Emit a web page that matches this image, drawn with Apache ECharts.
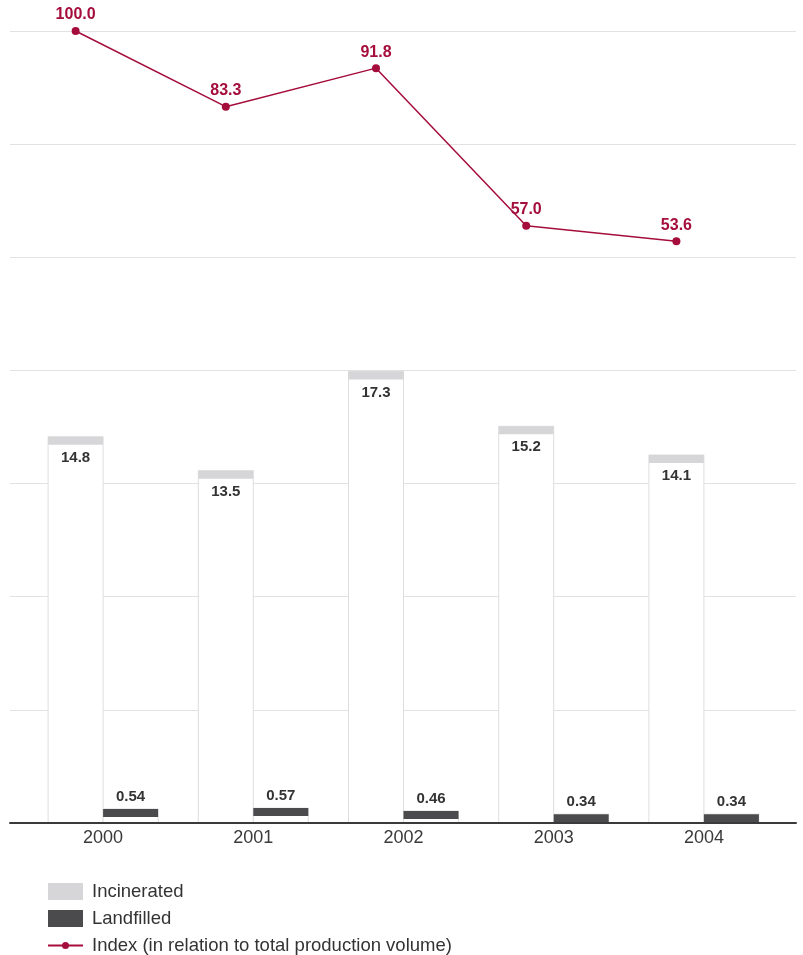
<!DOCTYPE html>
<html>
<head>
<meta charset="utf-8">
<script src="https://cdn.jsdelivr.net/npm/echarts@6/dist/echarts.min.js"></script>
<style>
  html, body { margin: 0; padding: 0; background: #fff; }
  #chart { width: 803px; height: 955px; }
</style>
</head>
<body>
<div id="chart"></div>
<script>
// data
var years = ['2000', '2001', '2002', '2003', '2004'];
var incinerated = [14.8, 13.5, 17.3, 15.2, 14.1];
var landfilled = [0.54, 0.57, 0.46, 0.34, 0.34];
var indexValues = [100.0, 83.3, 91.8, 57.0, 53.6];

var FONT = '"Liberation Sans", Arial, sans-serif';
var RED = '#a50d3c';
var INDEX_NAME = 'Index (in relation to total production volume)';

// bar with a coloured cap on top, drawn through the axis scales
function capBar(capColor, offset, labelInside, digits) {
  return function (params, api) {
    var base = api.coord([api.value(0), 0]);
    var top = api.coord([api.value(0), api.value(1)]);
    var w = 55;
    var cx = base[0] + offset;
    var h = base[1] - top[1];
    var labelY = labelInside ? top[1] + 21 : top[1] - 12;
    return {
      type: 'group',
      children: [
        {
          type: 'rect',
          shape: { x: cx - w / 2, y: top[1], width: w, height: h },
          style: { fill: '#fff', stroke: '#dedede', lineWidth: 1 }
        },
        {
          type: 'rect',
          shape: { x: cx - w / 2, y: top[1], width: w, height: 8 },
          style: { fill: capColor }
        },
        {
          type: 'text',
          style: {
            text: api.value(1).toFixed(digits),
            x: cx, y: labelY,
            align: 'center', verticalAlign: 'middle',
            font: 'bold 15px ' + FONT,
            fill: '#333'
          }
        }
      ]
    };
  };
}

// legend icon: short line with a dot in the middle
var lineIcon = 'path://M0,7.6L35,7.6L35,9.4L0,9.4Z' +
  'M14,8.5A3.5,3.5,0,1,1,21,8.5A3.5,3.5,0,1,1,14,8.5Z';

function legendRow(top, item) {
  return {
    orient: 'vertical',
    left: 48,
    top: top,
    padding: 0,
    itemWidth: 35,
    itemHeight: 17,
    textStyle: { fontSize: 18.5, color: '#333', fontFamily: FONT, padding: [0, 0, 0, 4] },
    data: [item]
  };
}

var chart = echarts.init(document.getElementById('chart'));

chart.setOption({
  animation: false,
  textStyle: { fontFamily: FONT },
  grid: [
    // background: gridlines and axis line
    { left: 10, right: 7, top: 31, bottom: 132 },
    // bars
    { left: 28, right: 24, top: 40, bottom: 132 },
    // index line (points sit on the incinerated bars)
    { left: 0.5, right: 51.5, top: 31, bottom: 471 }
  ],
  xAxis: [
    {
      gridIndex: 0, type: 'value', min: 0, max: 1, z: 10,
      axisLine: { show: true, lineStyle: { color: '#3a3a3a', width: 2 } },
      axisTick: { show: false }, axisLabel: { show: false }, splitLine: { show: false }
    },
    {
      gridIndex: 1, type: 'category', data: years,
      axisLine: { show: false }, axisTick: { show: false },
      axisLabel: { color: '#3a3a3a', fontSize: 18, margin: 6 }
    },
    {
      gridIndex: 2, type: 'category', data: years, show: false
    }
  ],
  yAxis: [
    {
      gridIndex: 0, type: 'value', min: 0, max: 7, interval: 1,
      axisLine: { show: false }, axisTick: { show: false }, axisLabel: { show: false },
      splitLine: { lineStyle: { color: '#e2e2e2', width: 1 } }
    },
    {
      gridIndex: 1, type: 'value', min: 0, max: 30, show: false, splitLine: { show: false }
    },
    {
      gridIndex: 2, type: 'value', min: 0, max: 100, show: false, splitLine: { show: false }
    }
  ],
  legend: [
    legendRow(882, { name: 'Incinerated', icon: 'rect' }),
    legendRow(909, { name: 'Landfilled', icon: 'rect' }),
    legendRow(936, { name: INDEX_NAME, icon: lineIcon })
  ],
  series: [
    {
      name: 'Incinerated',
      type: 'custom',
      xAxisIndex: 1, yAxisIndex: 1,
      itemStyle: { color: '#d6d6d8' },
      renderItem: capBar('#d6d6d8', -27.5, true, 1),
      encode: { x: 0, y: 1 },
      data: incinerated.map(function (v, i) { return [i, v]; }),
      z: 3
    },
    {
      name: 'Landfilled',
      type: 'custom',
      xAxisIndex: 1, yAxisIndex: 1,
      itemStyle: { color: '#4b4b4d' },
      renderItem: capBar('#4b4b4d', 27.5, false, 2),
      encode: { x: 0, y: 1 },
      data: landfilled.map(function (v, i) { return [i, v]; }),
      z: 3
    },
    {
      name: INDEX_NAME,
      type: 'line',
      xAxisIndex: 2, yAxisIndex: 2,
      data: indexValues,
      symbol: 'circle',
      symbolSize: 8,
      lineStyle: { color: RED, width: 1.5 },
      itemStyle: { color: RED },
      label: {
        show: true,
        position: 'top',
        distance: 4,
        color: RED,
        fontSize: 16,
        fontWeight: 'bold',
        fontFamily: FONT,
        formatter: function (p) { return p.value.toFixed(1); }
      },
      z: 4
    }
  ]
});
</script>
</body>
</html>
